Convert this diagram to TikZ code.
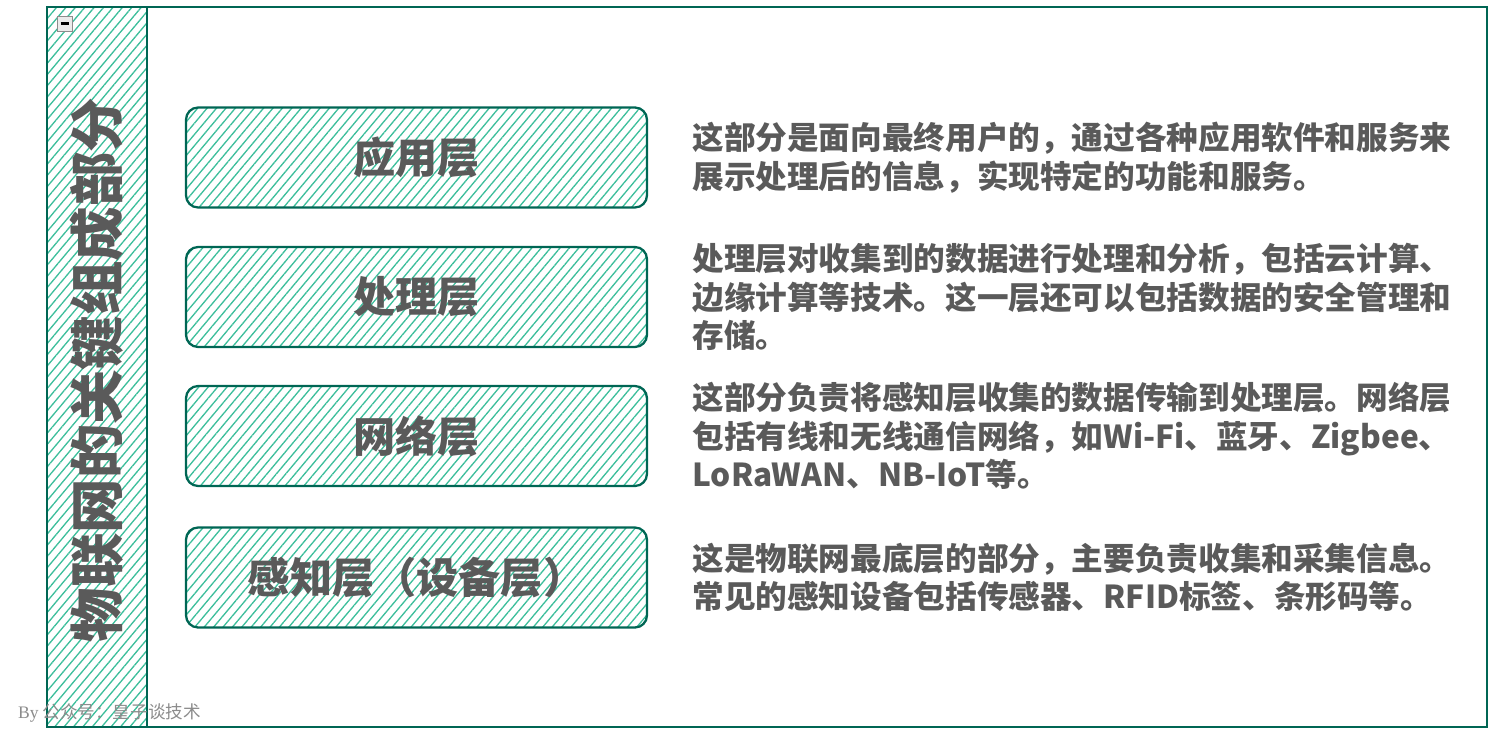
\documentclass[tikz,border=0pt]{standalone}
\usepackage{fontspec}
\setmainfont{Noto Sans CJK SC}
\newfontfamily\markfont{Liberation Serif}
\usetikzlibrary{positioning,patterns.meta}
\definecolor{frmgreen}{RGB}{0,102,84}
\definecolor{hatchgreen}{RGB}{60,190,155}
\definecolor{txtgray}{RGB}{90,90,90}
\tikzset{
  hatch/.style={pattern={Lines[angle=50,distance=4.1pt,line width=0.75pt]},pattern color=hatchgreen},
  frm/.style={draw=frmgreen,line width=1.3pt},
  lyr/.style={frm,hatch,rounded corners=0.24cm,minimum width=9.22cm,minimum height=2cm,
    font=\bfseries\fontsize{24}{28}\selectfont,text=txtgray},
  desc/.style={inner sep=0pt,align=left,font=\bfseries\fontsize{18}{22}\selectfont,text=txtgray},
  ttl/.style={rotate=90,font=\bfseries\fontsize{31}{31}\selectfont,text=txtgray},
}
\begin{document}
\begin{tikzpicture}[x=0.02cm,y=-0.02cm]
  \useasboundingbox (0,0) rectangle (1496,736);
  % left strip and outer frame
  \path[hatch] (47,7) rectangle (147,727);
  \draw[frm] (47,7) rectangle (147,727);
  \draw[frm] (47,7) rectangle (1487,727);
  \node[ttl] (title) at (97,370) {物联网的关键组成部分};
  % collapse icon
  \draw[draw=black!45,fill=black!8] (57,16) rectangle (72,31);
  \draw[line width=1.2pt] (60.5,23.5) -- (68.5,23.5);
  % layers
  \node[lyr] (app)  at (416.5,157.5) {应用层};
  \node[lyr] (proc) at (416.5,297)   {处理层};
  \node[lyr] (net)  at (416.5,436)   {网络层};
  \node[lyr] (sens) at (416.5,577.5) {感知层（设备层）};
  % descriptions
  \node[desc,right=0.88cm of app]  (appd)  {这部分是面向最终用户的，通过各种应用软件和服务来\\展示处理后的信息，实现特定的功能和服务。};
  \node[desc,right=0.88cm of proc] (procd) {处理层对收集到的数据进行处理和分析，包括云计算、\\边缘计算等技术。这一层还可以包括数据的安全管理和\\存储。};
  \node[desc,right=0.88cm of net]  (netd)  {这部分负责将感知层收集的数据传输到处理层。网络层\\包括有线和无线通信网络，如Wi-Fi、蓝牙、Zigbee、\\LoRaWAN、NB-IoT等。};
  \node[desc,right=0.88cm of sens] (sensd) {这是物联网最底层的部分，主要负责收集和采集信息。\\常见的感知设备包括传感器、RFID标签、条形码等。};
  % watermark
  \node[anchor=west,text=black!45,font=\fontsize{10}{11}\selectfont] (mark) at (12,713) {{\markfont By} 公众号：皇子谈技术};
\end{tikzpicture}
\end{document}
